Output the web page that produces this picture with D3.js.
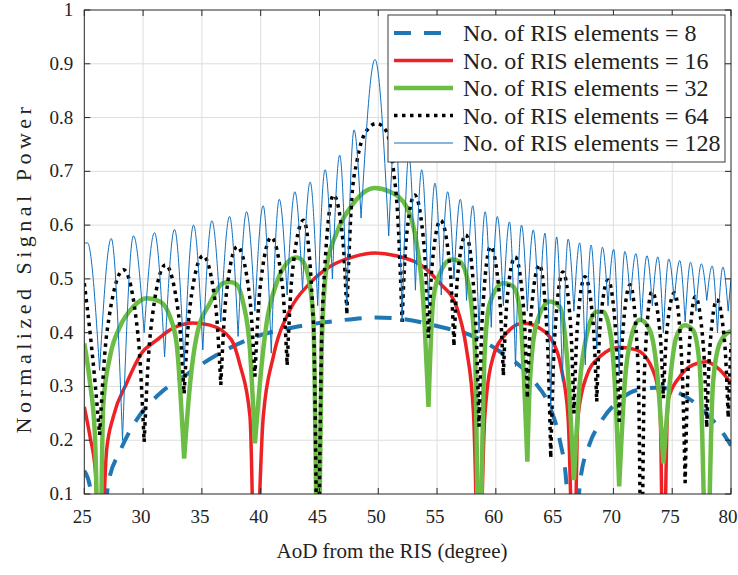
<!DOCTYPE html>
<meta charset="utf-8">
<script src="https://d3js.org/d3.v7.min.js"></script>
<style>
  body { margin: 0; background: #fff; }
</style>
<div id="chart"></div>
<script>
// axis ticks
const xTicks = [25, 30, 35, 40, 45, 50, 55, 60, 65, 70, 75, 80];
const yTicks = [0.1, 0.2, 0.3, 0.4, 0.5, 0.6, 0.7, 0.8, 0.9, 1];
const legendLabels = ["No. of RIS elements = 8", "No. of RIS elements = 16",
  "No. of RIS elements = 32", "No. of RIS elements = 64", "No. of RIS elements = 128"];

// [AoD in degree, normalized power] (nulls below 0.1 are clipped)
const ris8 = [[25,0.143],[25.5,0.112],[26.31,-0.2],[27.04,0.12],[28.03,0.179],[29.45,0.238],
  [31.43,0.287],[33.42,0.318],[36.54,0.362],[39.65,0.393],[43.05,0.411],[46.45,0.422],
  [49.72,0.428],[51.84,0.426],[55.24,0.411],[57.79,0.396],[60.34,0.365],[63.17,0.312],
  [64.59,0.262],[65.44,0.2],[66.0,0.12],[66.64,-0.2],[67.15,0.12],[67.99,0.194],[68.84,0.231],
  [70.54,0.275],[71.96,0.293],[73.94,0.298],[75.36,0.29],[77.34,0.262],[79.32,0.213],[80,0.19]];

const ris16 = [[25,0.262],[25.5,0.205],[25.95,0.14],[26.30,-0.2],[26.9,0.182],[27.47,0.244],
  [28.6,0.306],[29.88,0.362],[31.15,0.386],[32.28,0.405],[34.2,0.418],[35.69,0.414],
  [37.5,0.387],[38.24,0.34],[39.09,0.244],[39.51,-0.2],[40.22,0.244],[41.07,0.355],
  [42.49,0.442],[44.19,0.492],[45.89,0.523],[47.87,0.541],[49.71,0.548],[51.5,0.543],
  [53.82,0.523],[55.24,0.492],[56.66,0.448],[57.5,0.37],[58.1,0.25],[58.57,-0.2],
  [59.06,0.244],[59.77,0.355],[60.91,0.399],[62.32,0.4175],[63.74,0.408],[65.16,0.368],
  [65.6,0.33],[66.14,0.244],[66.64,-0.2],[66.99,0.244],[67.7,0.318],[68.84,0.355],
  [70.54,0.373],[71.96,0.368],[73.09,0.343],[73.94,0.275],[74.25,-0.2],[74.65,0.275],
  [75.64,0.318],[76.77,0.34],[77.9,0.346],[79.04,0.331],[80,0.306]];

const ris32 = [[25,0.38],[25.49,0.306],[25.9,0.21],[26.30,-0.2],[26.62,0.269],[27.18,0.355],
  [28.03,0.411],[29.16,0.448],[30.3,0.464],[31.43,0.458],[32.28,0.43],[32.85,0.38],
  [33.49,0.166],[34.0,0.306],[34.55,0.393],[35.69,0.455],[36.82,0.492],[37.4,0.494],
  [37.95,0.49],[38.52,0.455],[39.09,0.368],[39.51,0.194],[39.93,0.306],[40.5,0.417],
  [41.35,0.492],[42.49,0.535],[42.95,0.54],[43.34,0.538],[43.91,0.517],[44.47,0.43],
  [44.85,-0.2],[45.18,0.368],[45.61,0.523],[46.45,0.585],[47.87,0.64],[49.71,0.669],
  [50.99,0.662],[52.41,0.634],[53.26,0.566],[53.82,0.461],[54.27,0.262],[54.67,0.461],
  [55.24,0.51],[56.23,0.536],[56.94,0.532],[57.65,0.492],[58.22,0.368],[58.57,-0.2],
  [59.06,0.368],[59.49,0.455],[60.62,0.492],[61.47,0.486],[62.04,0.442],[62.68,0.16],
  [62.89,0.306],[63.46,0.417],[64.59,0.458],[65.44,0.448],[66.0,0.368],[66.64,0.126],
  [67.14,0.306],[67.7,0.393],[68.56,0.439],[69.12,0.439],[69.69,0.405],[70.12,0.306],
  [70.49,0.114],[70.96,0.306],[71.53,0.393],[72.24,0.424],[73.09,0.405],[73.8,0.306],
  [74.25,0.157],[74.79,0.306],[75.36,0.393],[76.06,0.414],[76.77,0.405],[77.34,0.337],
  [77.94,-0.2],[78.47,0.306],[79.04,0.38],[79.89,0.402],[80,0.403]];

const ris64 = [[25,0.492],[25.49,0.40],[25.92,0.306],[26.30,0.21],[26.92,0.40],[28.35,0.517],
  [29.57,0.395],[30.09,0.197],[30.63,0.401],[31.9,0.526],[33.01,0.435],[33.49,0.287],
  [33.97,0.446],[35.1,0.543],[36.16,0.452],[36.61,0.303],[37.03,0.462],[38.0,0.56],
  [39.06,0.468],[39.51,0.318],[39.93,0.479],[40.9,0.577],[41.85,0.487],[42.25,0.34],
  [42.67,0.507],[43.65,0.609],[44.49,0.416],[44.85,-0.2],[45.26,0.445],[46.2,0.656],
  [46.99,0.572],[47.33,0.436],[47.75,0.65],[48.2,0.72],[48.9,0.772],[49.85,0.789],
  [50.7,0.774],[51.25,0.71],[51.7,0.6],[52.03,0.42],[52.35,0.566],[53.1,0.656],
  [53.92,0.555],[54.27,0.39],[54.58,0.526],[55.3,0.609],[56.1,0.521],[56.44,0.377],
  [56.74,0.504],[57.45,0.582],[58.23,0.446],[58.57,0.225],[58.86,0.433],[59.55,0.56],
  [60.31,0.469],[60.64,0.321],[60.94,0.457],[61.64,0.541],[62.37,0.442],[62.68,0.281],
  [62.99,0.433],[63.7,0.526],[64.38,0.39],[64.67,0.169],[64.98,0.382],[65.7,0.513],
  [66.36,0.413],[66.64,0.25],[66.92,0.407],[67.58,0.504],[68.28,0.416],[68.58,0.272],
  [68.87,0.412],[69.54,0.498],[70.21,0.398],[70.49,0.234],[70.77,0.392],[71.42,0.489],
  [72.09,0.341],[72.38,-0.2],[72.65,0.333],[73.27,0.476],[73.96,0.401],[74.25,0.278],
  [74.53,0.40],[75.19,0.474],[75.83,0.339],[76.10,0.12],[76.36,0.335],[76.96,0.467],
  [77.65,0.375],[77.94,0.225],[78.2,0.371],[78.8,0.461],[79.47,0.379],[79.76,0.244],[80,0.38]];

const ris128 = [[25,0.566],[25.27,0.567],[26.30,0.33],[27.29,0.575],[28.25,0.20],[29.18,0.580],
  [30.09,0.40],[30.97,0.586],[31.83,0.355],[32.67,0.592],[33.49,0.34],[34.29,0.600],
  [35.08,0.368],[35.85,0.608],[36.61,0.42],[37.35,0.616],[38.08,0.393],[38.80,0.625],
  [39.51,0.44],[40.21,0.636],[40.90,0.362],[41.58,0.648],[42.25,0.47],[42.91,0.662],
  [43.56,0.48],[44.21,0.680],[44.85,0.45],[45.48,0.703],[46.10,0.50],[46.72,0.730],
  [47.33,0.45],[47.94,0.777],[48.54,0.613],[49.72,0.908],[50.89,0.58],[51.46,0.777],
  [52.03,0.42],[52.6,0.73],[53.16,0.479],[53.7,0.703],[54.27,0.45],[54.82,0.678],
  [55.36,0.47],[55.9,0.662],[56.44,0.50],[56.98,0.648],[57.51,0.46],[58.04,0.636],
  [58.57,0.40],[59.09,0.625],[59.61,0.41],[60.13,0.616],[60.64,0.45],[61.16,0.606],
  [61.67,0.337],[62.18,0.600],[62.68,0.44],[63.18,0.591],[63.68,0.417],[64.18,0.585],
  [64.67,0.26],[65.17,0.578],[65.66,0.31],[66.15,0.574],[66.64,0.44],[67.13,0.567],
  [67.61,0.34],[68.1,0.563],[68.58,0.37],[69.06,0.559],[69.54,0.45],[70.02,0.555],
  [70.49,0.32],[70.97,0.551],[71.44,0.46],[71.91,0.547],[72.38,0.42],[72.85,0.543],
  [73.31,0.45],[73.78,0.541],[74.25,0.40],[74.71,0.537],[75.17,0.46],[75.64,0.534],
  [76.10,0.42],[76.56,0.531],[77.02,0.44],[77.48,0.528],[77.94,0.46],[78.4,0.524],
  [78.85,0.40],[79.31,0.522],[79.76,0.44],[80,0.50]];

const W = 738, H = 575;
const margin = {top: 10, right: 7, bottom: 81, left: 84.3};
const FONT = "'Liberation Serif', 'Times New Roman', Times, 'DejaVu Serif', serif";

const svg = d3.select("#chart").append("svg")
  .attr("width", W).attr("height", H)
  .attr("font-family", FONT)
  .style("font-family", FONT);

const x = d3.scaleLinear().domain([25, 80]).range([margin.left, W - margin.right]);
const y = d3.scaleLinear().domain([0.1, 1]).range([H - margin.bottom, margin.top]);

svg.append("defs").append("clipPath").attr("id", "plot")
  .append("rect")
    .attr("x", x(25)).attr("y", y(1))
    .attr("width", x(80) - x(25)).attr("height", y(0.1) - y(1));

// grid
svg.append("g").selectAll("line").data(xTicks.slice(1, -1)).join("line")
  .attr("x1", d => x(d)).attr("x2", d => x(d))
  .attr("y1", y(1)).attr("y2", y(0.1))
  .attr("stroke", "#dedede").attr("stroke-width", 1);
svg.append("g").selectAll("line").data(yTicks.slice(1, -1)).join("line")
  .attr("x1", x(25)).attr("x2", x(80))
  .attr("y1", d => y(d)).attr("y2", d => y(d))
  .attr("stroke", "#dedede").attr("stroke-width", 1);

// split a series into lobes at each local minimum, so every null stays a cusp
function lobes(pts) {
  const out = [];
  let cur = [pts[0]];
  for (let i = 1; i < pts.length; i++) {
    cur.push(pts[i]);
    if (i < pts.length - 1 && pts[i][1] < pts[i - 1][1] && pts[i][1] < pts[i + 1][1]) {
      out.push(cur);
      cur = [pts[i]];
    }
  }
  out.push(cur);
  return out;
}

const line = d3.line().x(d => x(d[0])).y(d => y(d[1])).curve(d3.curveMonotoneX);

const series = [
  {data: ris8,   color: "#1f77b4", width: 4,   dash: "17,13"},
  {data: ris16,  color: "#ee2224", width: 3.5, dash: null},
  {data: ris32,  color: "#6cbd45", width: 4.5, dash: null},
  {data: ris64,  color: "#000000", width: 3.5, dash: "3.5,4.5"},
  {data: ris128, color: "#0f6fbf", width: 1,   dash: null}
];

const plot = svg.append("g").attr("clip-path", "url(#plot)");
series.forEach(s => {
  plot.append("path")
    .attr("d", lobes(s.data).map(l => line(l)).join(""))
    .attr("fill", "none")
    .attr("stroke", s.color)
    .attr("stroke-width", s.width)
    .attr("stroke-dasharray", s.dash)
    .attr("stroke-linejoin", "round");
});

// axes box + inward ticks on all sides
const axisColor = "#262626";
const tl = 6;
const ax = svg.append("g").attr("stroke", axisColor).attr("stroke-width", 1);
ax.append("rect")
  .attr("x", x(25)).attr("y", y(1))
  .attr("width", x(80) - x(25)).attr("height", y(0.1) - y(1))
  .attr("fill", "none");
xTicks.forEach(t => {
  ax.append("line").attr("x1", x(t)).attr("x2", x(t)).attr("y1", y(0.1)).attr("y2", y(0.1) - tl);
  ax.append("line").attr("x1", x(t)).attr("x2", x(t)).attr("y1", y(1)).attr("y2", y(1) + tl);
});
yTicks.forEach(t => {
  ax.append("line").attr("x1", x(25)).attr("x2", x(25) + tl).attr("y1", y(t)).attr("y2", y(t));
  ax.append("line").attr("x1", x(80)).attr("x2", x(80) - tl).attr("y1", y(t)).attr("y2", y(t));
});

const txt = sel => sel.attr("font-family", FONT).style("font-family", FONT).attr("fill", "#222");

svg.append("g").selectAll("text").data(xTicks).join("text")
  .call(txt)
  .attr("x", d => Math.min(x(d) - 2, 728)).attr("y", y(0.1) + 29)
  .attr("text-anchor", "middle").style("font-size", "19px")
  .text(d => d);
svg.append("g").selectAll("text").data(yTicks).join("text")
  .call(txt)
  .attr("x", x(25) - 11).attr("y", d => y(d) + 6)
  .attr("text-anchor", "end").style("font-size", "19px")
  .text(d => d);

svg.append("text").call(txt)
  .attr("x", 392).attr("y", 558)
  .attr("text-anchor", "middle").style("font-size", "21px")
  .text("AoD from the RIS (degree)");
svg.append("text").call(txt)
  .attr("transform", "translate(31, 268) rotate(-90)")
  .attr("text-anchor", "middle").style("font-size", "22px")
  .style("letter-spacing", "4.5px")
  .text("Normalized Signal Power");

// legend
const lg = svg.append("g");
lg.append("rect")
  .attr("x", 388).attr("y", 15).attr("width", 337).attr("height", 147)
  .attr("fill", "#fff").attr("stroke", "#3a3a3a").attr("stroke-width", 1);
legendLabels.forEach((lab, i) => {
  const ly = 33 + i * 27.5;
  lg.append("line")
    .attr("x1", 394).attr("x2", 453).attr("y1", ly).attr("y2", ly)
    .attr("stroke", series[i].color)
    .attr("stroke-width", series[i].width)
    .attr("stroke-dasharray", series[i].dash);
  lg.append("text").call(txt)
    .attr("x", 463).attr("y", ly + 8)
    .style("font-size", "24px")
    .text(lab);
});
</script>
